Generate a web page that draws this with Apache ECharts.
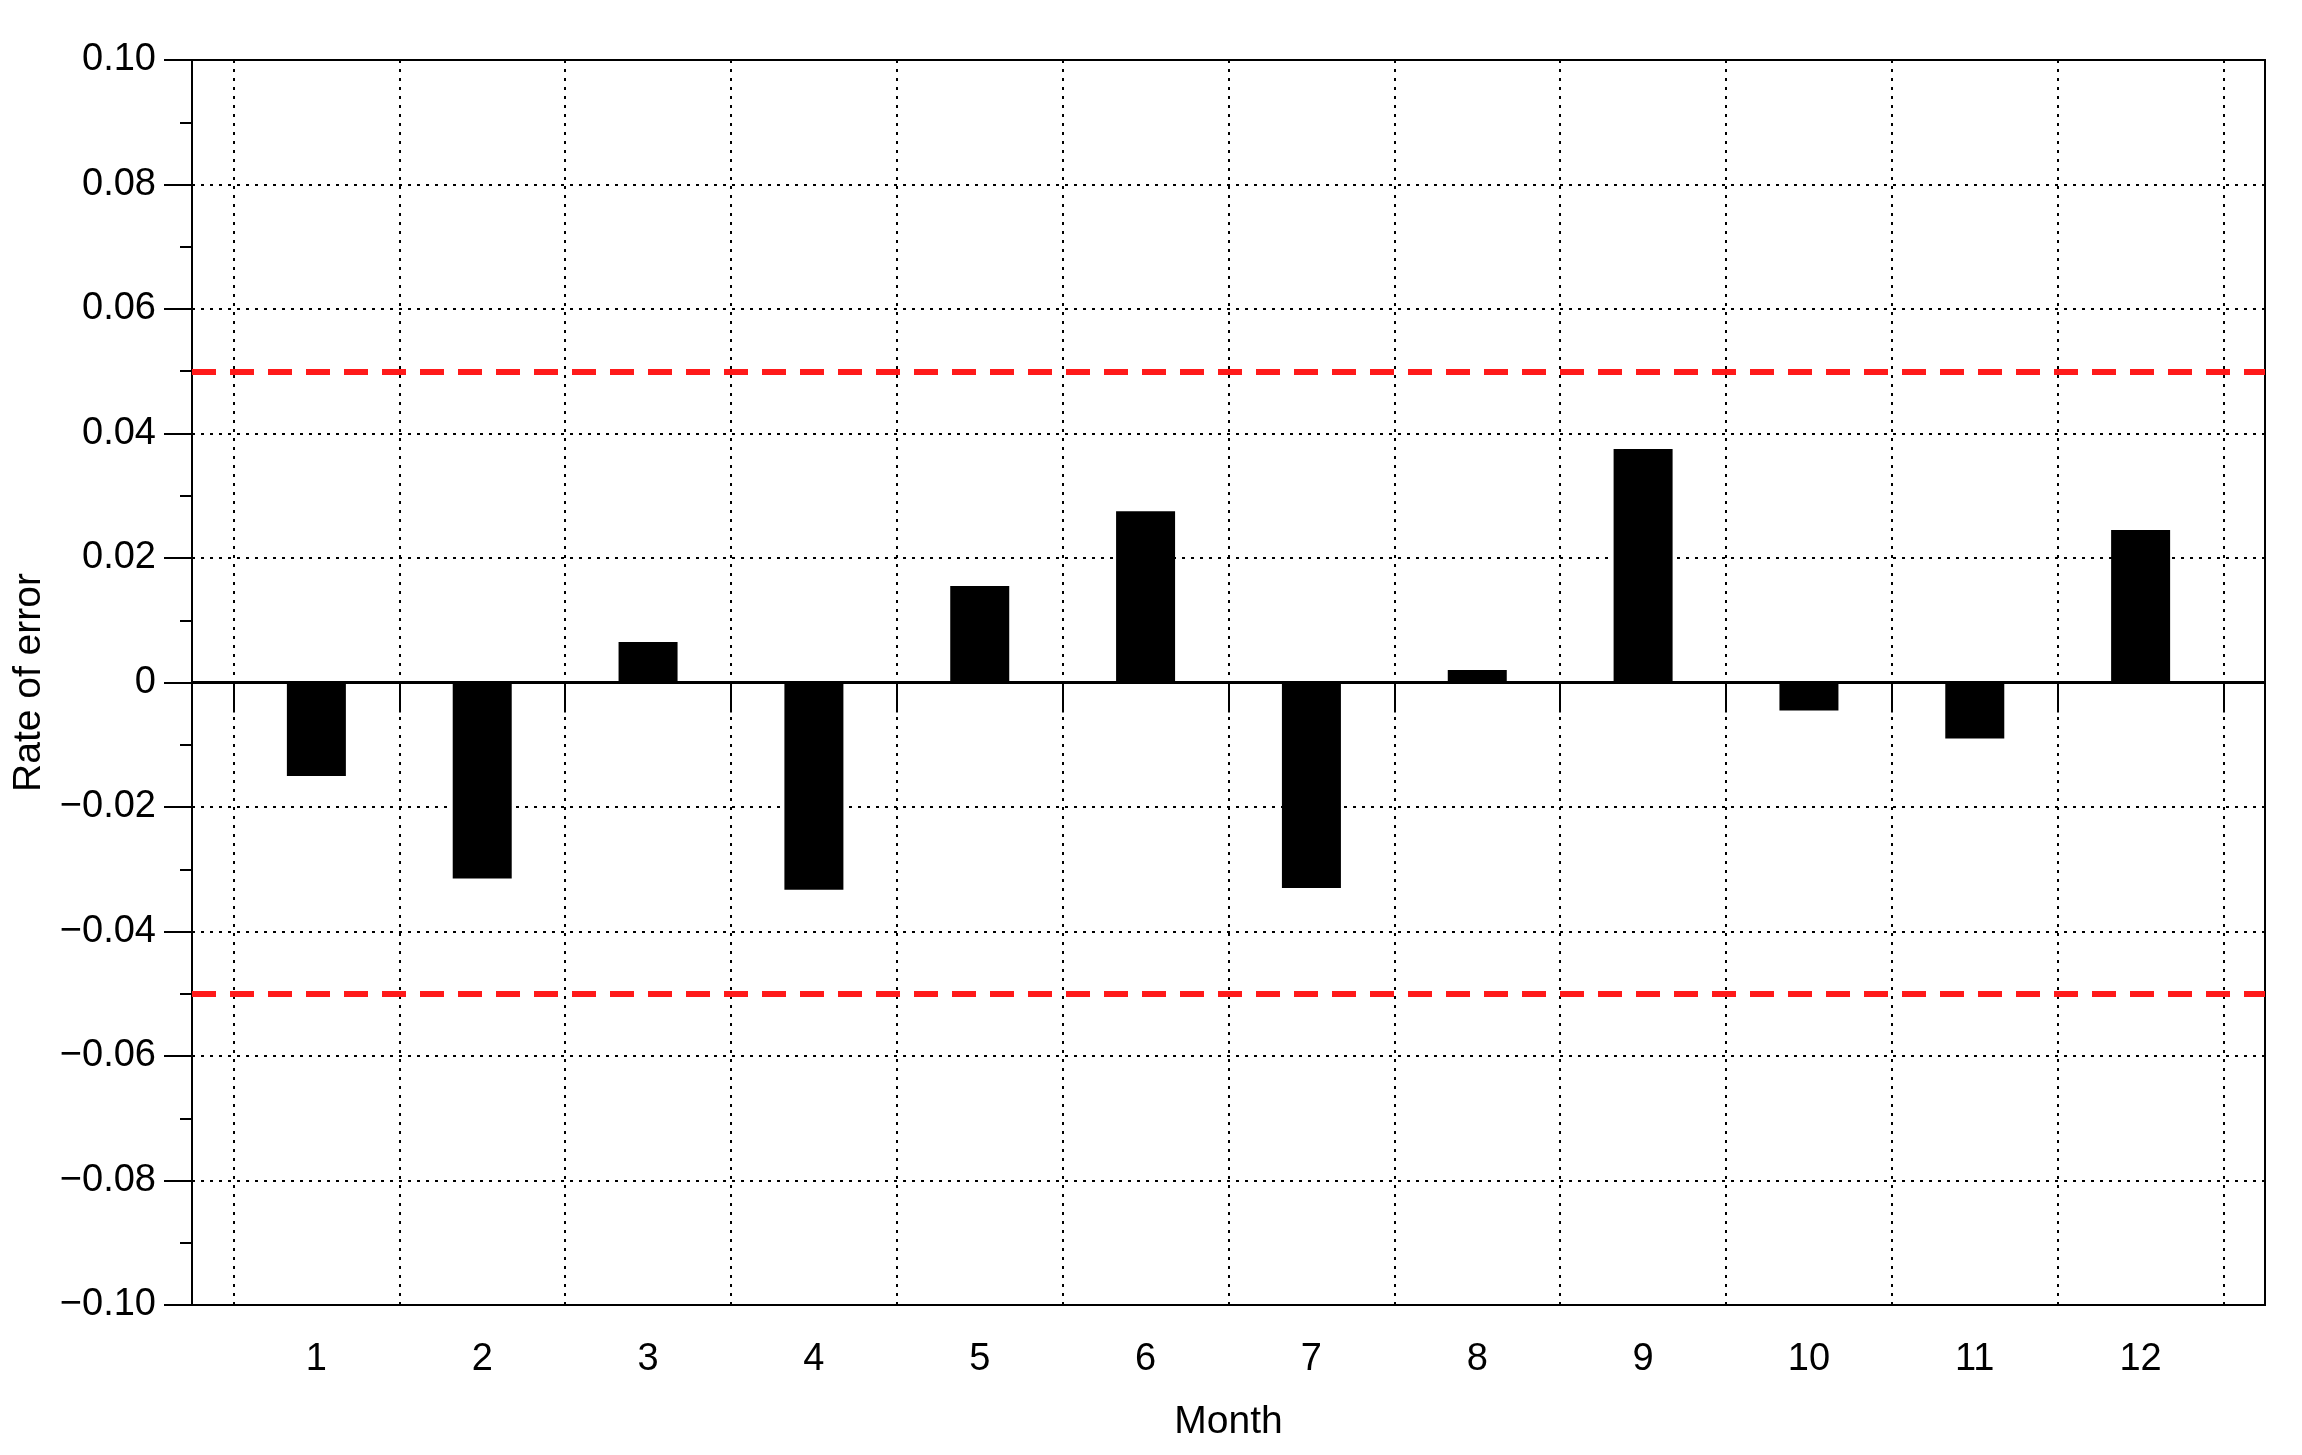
<!DOCTYPE html>
<html><head><meta charset="utf-8">
<script src="https://cdn.jsdelivr.net/npm/echarts@6/dist/echarts.min.js"></script>
<style>html,body{margin:0;padding:0;background:#fff}#c{width:2302px;height:1455px}</style>
</head><body><div id="c"></div>
<script>
const months = [1,2,3,4,5,6,7,8,9,10,11,12];
const errors = [-0.015,-0.0315,0.0065,-0.0333,0.0155,0.0275,-0.033,0.002,0.0375,-0.0045,-0.009,0.0245];
const limits = [0.05,-0.05];
const bandEdges = [0.5,1.5,2.5,3.5,4.5,5.5,6.5,7.5,8.5,9.5,10.5,11.5,12.5];
const font = 'Liberation Sans';
const chart = echarts.init(document.getElementById('c'));
chart.setOption({
  animation:false,
  grid:{left:192,right:37,top:60,bottom:150,show:true,borderColor:'#000',borderWidth:2,backgroundColor:'transparent'},
  xAxis:{type:'value',min:0.25,max:12.75,name:'Month',nameLocation:'middle',nameGap:98,
    nameTextStyle:{fontFamily:font,fontSize:39,color:'#000'},
    axisLine:{lineStyle:{color:'#000',width:2}},
    axisTick:{show:true,customValues:bandEdges,length:30,inside:false,lineStyle:{color:'#000',width:2}},
    axisLabel:{customValues:months,margin:36,fontFamily:font,fontSize:38,color:'#000'},
    splitLine:{show:false}},
  yAxis:{type:'value',min:-0.1,max:0.1,interval:0.02,name:'Rate of error',nameLocation:'middle',nameGap:130,
    nameTextStyle:{fontFamily:font,fontSize:39,color:'#000'},
    axisLine:{lineStyle:{color:'#000',width:2}},
    axisTick:{length:28,lineStyle:{color:'#000',width:2}},
    minorTick:{show:true,splitNumber:2,length:12,lineStyle:{color:'#000',width:2}},
    axisLabel:{margin:36,fontFamily:font,fontSize:38,color:'#000',
      formatter:v=>{if(Math.abs(v)<1e-9)return '0';const s=Math.abs(v).toFixed(2);return v<0?'\u2212'+s:s;}},
    splitLine:{show:true,lineStyle:{color:'#000',type:[3,6],width:2}}},
  series:[{type:'bar',data:months.map((m,i)=>[m,errors[i]]),barWidth:59,itemStyle:{color:'#000'},
    markLine:{silent:true,symbol:'none',label:{show:false},
      data:[...bandEdges.map(x=>({xAxis:x,lineStyle:{color:'#000',type:[3,6],width:2}})),
        {yAxis:0,lineStyle:{color:'#000',type:'solid',width:3}},
        ...limits.map(y=>({yAxis:y,lineStyle:{color:'#ff1a1a',type:[24,14],width:6}}))]}}]
});
</script></body></html>
